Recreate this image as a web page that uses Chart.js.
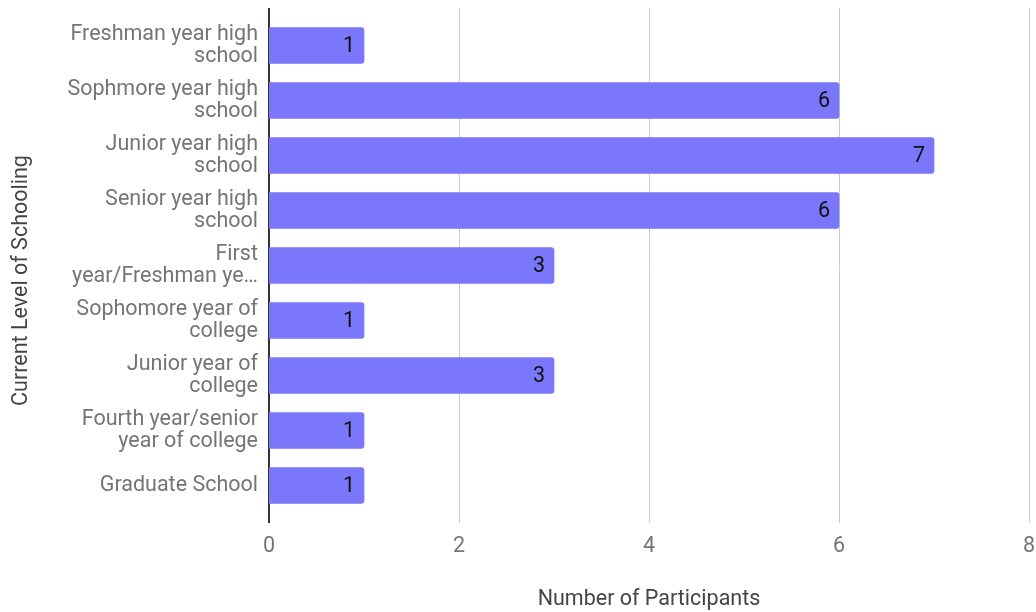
<!DOCTYPE html>
<html>
<head>
<meta charset="utf-8">
<script src="https://cdn.jsdelivr.net/npm/chart.js@4.4.1/dist/chart.umd.min.js"></script>
<style>
  html, body { margin: 0; padding: 0; background: #fff; }
  #wrap { width: 1036px; height: 612px; }
</style>
</head>
<body>
<div id="wrap"><canvas id="schooling"></canvas></div>
<script>
var levels = [
  ['Freshman year high', 'school'],
  ['Sophmore year high', 'school'],
  ['Junior year high', 'school'],
  ['Senior year high', 'school'],
  ['First', 'year/Freshman ye\u2026'],
  ['Sophomore year of', 'college'],
  ['Junior year of', 'college'],
  ['Fourth year/senior', 'year of college'],
  'Graduate School'
];
var participants = [1, 6, 7, 6, 3, 1, 3, 1, 1];
var xTicks = [0, 2, 4, 6, 8];
var xTitle = 'Number of Participants';
var yTitle = 'Current Level of Schooling';

var barColor = '#7b77fa';
var textGray = '#757575';
var titleGray = '#444444';
var fontSize = 21.5;

// grid lines + baseline run a bit past the bar band, drawn by hand
var gridPlugin = {
  id: 'gridLines',
  beforeDatasetsDraw: function(chart) {
    var ctx = chart.ctx;
    var x = chart.scales.x;
    var area = chart.chartArea;
    ctx.save();
    xTicks.forEach(function(v) {
      if (v === 0) return;
      var px = Math.round(x.getPixelForValue(v)) + 0.5;
      ctx.strokeStyle = '#cccccc';
      ctx.lineWidth = 1;
      ctx.beginPath();
      ctx.moveTo(px, area.top - 10);
      ctx.lineTo(px, area.bottom + 10);
      ctx.stroke();
    });
    var p0 = Math.round(x.getPixelForValue(0));
    ctx.strokeStyle = '#333333';
    ctx.lineWidth = 2;
    ctx.beginPath();
    ctx.moveTo(p0, area.top - 10);
    ctx.lineTo(p0, area.bottom + 10);
    ctx.stroke();

    // vertical axis title, sits a little below the middle of the band
    ctx.fillStyle = titleGray;
    ctx.font = fontSize + 'px Roboto';
    ctx.textAlign = 'center';
    ctx.textBaseline = 'middle';
    ctx.translate(22, (area.top + area.bottom) / 2 + 15);
    ctx.rotate(-Math.PI / 2);
    ctx.fillText(yTitle, 0, 0);
    ctx.restore();
  }
};

// value written inside the end of each bar
var valuePlugin = {
  id: 'barValues',
  afterDatasetsDraw: function(chart) {
    var ctx = chart.ctx;
    var meta = chart.getDatasetMeta(0);
    ctx.save();
    ctx.fillStyle = '#111111';
    ctx.font = fontSize + 'px Roboto';
    ctx.textAlign = 'right';
    ctx.textBaseline = 'middle';
    meta.data.forEach(function(bar, i) {
      ctx.fillText(String(participants[i]), bar.x - 9, bar.y + 1);
    });
    ctx.restore();
  }
};

var chart = new Chart(document.getElementById('schooling'), {
  type: 'bar',
  data: {
    labels: levels,
    datasets: [{
      data: participants,
      backgroundColor: barColor,
      barThickness: 36,
      borderRadius: { topRight: 3, bottomRight: 3, topLeft: 0, bottomLeft: 0 },
      borderSkipped: 'start'
    }]
  },
  options: {
    indexAxis: 'y',
    responsive: true,
    maintainAspectRatio: false,
    animation: false,
    layout: { padding: { top: 18, right: 7, bottom: -1, left: 0 } },
    plugins: {
      legend: { display: false },
      tooltip: { enabled: false }
    },
    scales: {
      x: {
        min: 0,
        max: 8,
        afterBuildTicks: function(scale) {
          scale.ticks = xTicks.map(function(v) { return { value: v }; });
        },
        afterFit: function(scale) {
          scale.height = 100;
          scale.paddingLeft = 0;
          scale.paddingRight = 0;
        },
        grid: { display: false, drawTicks: false },
        border: { display: false },
        ticks: {
          color: textGray,
          font: { family: 'Roboto', size: fontSize },
          padding: 21
        },
        title: {
          display: true,
          text: xTitle,
          color: titleGray,
          font: { family: 'Roboto', size: fontSize },
          padding: { top: 0, bottom: 0 }
        }
      },
      y: {
        afterFit: function(scale) {
          scale.width = 269;
          scale.paddingTop = 0;
          scale.paddingBottom = 0;
        },
        grid: { display: false, drawTicks: false },
        border: { display: false },
        ticks: {
          color: textGray,
          font: { family: 'Roboto', size: fontSize, lineHeight: 1.0 },
          padding: 11,
          autoSkip: false
        }
      }
    }
  },
  plugins: [gridPlugin, valuePlugin]
});
</script>
</body>
</html>
